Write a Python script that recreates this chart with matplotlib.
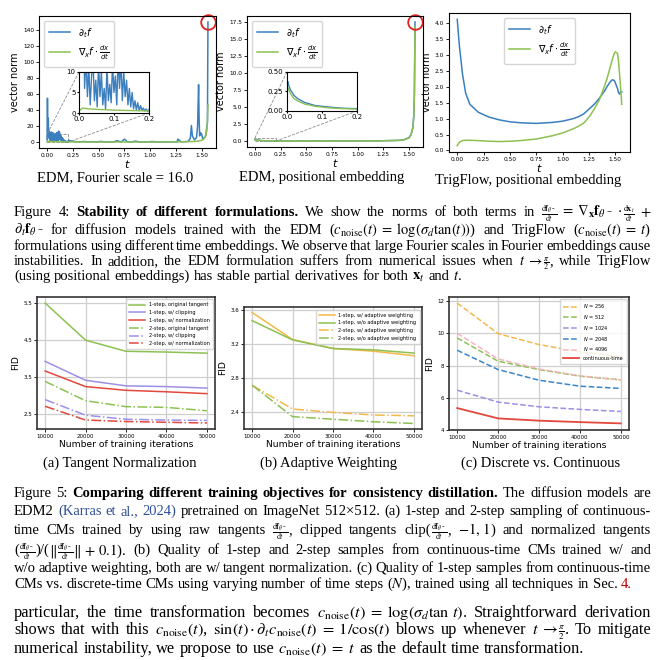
import matplotlib
matplotlib.use('Agg')
import matplotlib.pyplot as plt
import numpy as np
from mpl_toolkits.axes_grid1.inset_locator import mark_inset

# ---------------- data: top row ----------------
t_fourier = [0.000, 0.004, 0.008, 0.012, 0.016, 0.020, 0.024, 0.028, 0.032, 0.036, 0.040, 0.044,
             0.048, 0.052, 0.056, 0.060, 0.064, 0.068, 0.072, 0.076, 0.080, 0.084, 0.088, 0.092,
             0.096, 0.100, 0.104, 0.108, 0.112, 0.116, 0.120, 0.124, 0.128, 0.132, 0.136, 0.140,
             0.144, 0.148, 0.152, 0.156, 0.160, 0.164, 0.168, 0.172, 0.176, 0.180, 0.184, 0.188,
             0.192, 0.196, 0.200,
             0.21, 0.24, 0.28, 0.32, 0.36, 0.40, 0.44, 0.48, 0.52, 0.56, 0.60, 0.64, 0.68, 0.72,
             0.75, 0.78, 0.82, 0.86, 0.90, 0.94, 0.98, 1.02, 1.06, 1.10, 1.14, 1.18, 1.22, 1.26,
             1.27, 1.30, 1.34, 1.37,
             1.39, 1.40, 1.41, 1.43, 1.45, 1.46, 1.47, 1.475, 1.48, 1.49, 1.50, 1.51, 1.52, 1.53,
             1.54, 1.55, 1.556, 1.5608]
dtf_fourier = [3, 55, 12, 30, 6, 14, 4, 11, 2, 9, 13, 3,
               8, 1.5, 12, 4, 10, 2, 6, 1, 11, 3, 7, 2.5,
               12, 5, 9, 2, 14, 6, 13, 3, 10, 4, 8, 2,
               6, 1.5, 5, 1, 3, 0.8, 2.5, 0.6, 1.8, 0.7, 1.2, 0.5,
               1.0, 0.4, 0.8,
               2.5, 1.5, 0.8, 0.6, 1.0, 0.5, 0.8, 0.4, 1.2, 0.5, 0.6, 0.4, 2.0, 0.5,
               4.0, 0.6, 0.5, 1.5, 0.4, 0.6, 0.4, 1.0, 0.5, 0.4, 0.6, 0.5, 0.7, 0.5,
               4.0, 0.6, 0.8, 1.2,
               5, 21, 8, 3, 6, 20, 72, 30, 8, 12, 10, 4, 5, 6,
               9, 20, 25, 150]
t_fourier_g = [0.0, 0.01, 0.03, 0.05, 0.1, 0.2, 0.5, 1.0, 1.3, 1.45, 1.50, 1.52, 1.54, 1.55, 1.555, 1.5608]
dxf_fourier = [0.5, 1.2, 1.0, 0.9, 0.7, 0.5, 0.4, 0.4, 0.6, 1.2, 2.5, 4, 8, 15, 25, 47]

t_pos = [0.0, 0.002, 0.005, 0.01, 0.02, 0.03, 0.05, 0.08, 0.12, 0.16, 0.2, 0.4, 0.8, 1.2,
         1.4, 1.45, 1.5, 1.52, 1.54, 1.55, 1.555, 1.5608]
dtf_pos = [0.22, 0.38, 0.33, 0.27, 0.20, 0.16, 0.11, 0.07, 0.05, 0.035, 0.03, 0.025, 0.03, 0.05,
           0.12, 0.2, 0.5, 0.9, 2.0, 4.0, 7.0, 17.5]
dxf_pos = [0.16, 0.30, 0.28, 0.22, 0.16, 0.13, 0.09, 0.06, 0.04, 0.03, 0.025, 0.02, 0.025, 0.045,
           0.11, 0.18, 0.45, 0.85, 1.9, 3.8, 6.8, 16.8]

t_trig = [0.0, 0.02, 0.05, 0.08, 0.12, 0.2, 0.3, 0.4, 0.5, 0.6, 0.75, 0.9, 1.0, 1.1, 1.15, 1.2,
          1.25, 1.3, 1.35, 1.4, 1.42, 1.45, 1.47, 1.49, 1.5, 1.52, 1.53, 1.54, 1.55, 1.5608]
dtf_trig = [4.12, 3.3, 2.4, 1.8, 1.45, 1.2, 1.05, 0.96, 0.9, 0.87, 0.85, 0.88, 0.92, 1.0, 1.06,
            1.15, 1.3, 1.45, 1.65, 1.88, 2.0, 2.15, 2.22, 2.2, 2.12, 1.95, 1.82, 1.77, 1.84, 1.84]
dxf_trig = [0.15, 0.26, 0.31, 0.32, 0.32, 0.31, 0.29, 0.28, 0.29, 0.31, 0.36, 0.46, 0.55, 0.68,
            0.76, 0.86, 1.05, 1.3, 1.6, 2.05, 2.25, 2.6, 2.85, 3.05, 3.1, 3.05, 2.8, 2.4, 1.95, 1.45]

# ---------------- data: bottom row ----------------
iters = [10000, 20000, 30000, 40000, 50000]
a_labels = ['1-step, original tangent', '1-step, w/ clipping', '1-step, w/ normalization',
            '2-step, original tangent', '2-step, w/ clipping', '2-step, w/ normalization']
a_1_orig = [5.50, 4.50, 4.20, 4.18, 4.15]
a_1_clip = [3.93, 3.42, 3.27, 3.25, 3.21]
a_1_norm = [3.67, 3.25, 3.15, 3.11, 3.06]
a_2_orig = [3.39, 2.87, 2.71, 2.69, 2.60]
a_2_clip = [2.90, 2.48, 2.37, 2.35, 2.34]
a_2_norm = [2.72, 2.35, 2.31, 2.29, 2.27]

b_labels = ['1-step, w/ adaptive weighting', '1-step, w/o adaptive weighting',
            '2-step, w/ adaptive weighting', '2-step, w/o adaptive weighting']
b_1_w = [3.575, 3.258, 3.152, 3.12, 3.067]
b_1_wo = [3.48, 3.253, 3.152, 3.136, 3.098]
b_2_w = [2.72, 2.44, 2.40, 2.37, 2.36]
b_2_wo = [2.72, 2.35, 2.32, 2.29, 2.27]

c_labels = ['$N$ = 256', '$N$ = 512', '$N$ = 1024', '$N$ = 2048', '$N$ = 4096', 'continuous-time']
c_256 = [11.88, 9.98, 9.30, 8.85, 8.54]
c_512 = [9.71, 8.27, 7.75, 7.34, 7.11]
c_1024 = [6.47, 5.73, 5.44, 5.28, 5.15]
c_2048 = [8.95, 7.75, 7.09, 6.72, 6.58]
c_4096 = [10.0, 8.41, 7.79, 7.36, 7.11]
c_cont = [5.36, 4.72, 4.58, 4.49, 4.41]

top_titles = ['EDM, Fourier scale = 16.0', 'EDM, positional embedding', 'TrigFlow, positional embedding']
sub_captions = ['(a) Tangent Normalization', '(b) Adaptive Weighting', '(c) Discrete vs. Continuous']

BLUE = '#3b7fbf'
GREEN = '#8cc152'
PURPLE = '#9d8fe8'
RED = '#e2483c'
ORANGE = '#f5b849'
CBLUE = '#3a86c8'
PINK = '#f5b5c2'

W, H = 671, 660
fig = plt.figure(figsize=(W / 100, H / 100), dpi=100)


def box(l, t, r, b):
    return [l / W, 1 - b / H, (r - l) / W, (b - t) / H]


def style_top(ax):
    ax.tick_params(labelsize=4.2, length=2, width=0.6, pad=1.5)
    for s in ax.spines.values():
        s.set_linewidth(0.8)
    ax.set_xlabel('$t$', fontsize=8, labelpad=0)
    ax.set_ylabel('vector norm', fontsize=7, labelpad=2)
    ax.set_xticks([0, 0.25, 0.5, 0.75, 1.0, 1.25, 1.5])


leg_lab = [r'$\partial_t f$', r'$\nabla_x f \cdot \frac{dx}{dt}$']

# ---- ax1
ax1 = fig.add_axes(box(39, 16, 216, 148))
ax1.plot(t_fourier, dtf_fourier, color=BLUE, lw=1.1, label=leg_lab[0])
ax1.plot(t_fourier_g, dxf_fourier, color=GREEN, lw=1.1, label=leg_lab[1])
style_top(ax1)
ax1.legend(loc='upper left', fontsize=7, handlelength=2.2, borderpad=0.5, labelspacing=0.4)
i = int(np.argmax(dtf_fourier))
ax1.plot(t_fourier[i], dtf_fourier[i], 'o', ms=10.5, mfc='none', mec='#e0201b', mew=1.3, clip_on=False)
ins1 = ax1.inset_axes([0.226, 0.265, 0.395, 0.311])
ins1.plot(t_fourier, dtf_fourier, color=BLUE, lw=1.0)
ins1.plot(t_fourier_g, dxf_fourier, color=GREEN, lw=1.0)
ins1.set_xlim(0, 0.2)
ins1.set_ylim(0, 10)
ins1.set_xticks([0, 0.1, 0.2])
ins1.set_yticks([0, 5, 10])
ins1.tick_params(labelsize=5, length=1.5, pad=1)
mark_inset(ax1, ins1, loc1=2, loc2=4, fc='none', ec='0.55', lw=0.6, ls='--')

# ---- ax2
ax2 = fig.add_axes(box(247, 16, 423, 147))
ax2.plot(t_pos, dtf_pos, color=BLUE, lw=1.1, label=leg_lab[0])
ax2.plot(t_pos, dxf_pos, color=GREEN, lw=1.1, label=leg_lab[1])
style_top(ax2)
ax2.legend(loc='upper left', fontsize=7, handlelength=2.2, borderpad=0.5, labelspacing=0.4)
i = int(np.argmax(dtf_pos))
ax2.plot(t_pos[i], dtf_pos[i], 'o', ms=10.5, mfc='none', mec='#e0201b', mew=1.3, clip_on=False)
ins2 = ax2.inset_axes([0.227, 0.275, 0.398, 0.298])
ins2.plot(t_pos, dtf_pos, color=BLUE, lw=1.0)
ins2.plot(t_pos, dxf_pos, color=GREEN, lw=1.0)
ins2.set_xlim(0, 0.2)
ins2.set_ylim(0, 0.5)
ins2.set_xticks([0, 0.1, 0.2])
ins2.set_yticks([0, 0.25, 0.5])
ins2.tick_params(labelsize=5, length=1.5, pad=1)
mark_inset(ax2, ins2, loc1=2, loc2=4, fc='none', ec='0.55', lw=0.6, ls='--')

# ---- ax3
ax3 = fig.add_axes(box(449, 13, 630, 152))
ax3.plot(t_trig, dtf_trig, color=BLUE, lw=1.1, label=leg_lab[0])
ax3.plot(t_trig, dxf_trig, color=GREEN, lw=1.1, label=leg_lab[1])
style_top(ax3)
ax3.legend(loc='upper center', fontsize=7, handlelength=2.2, borderpad=0.5, labelspacing=0.4)

for x, y, s in [(115, 181, top_titles[0]), (322, 181, top_titles[1]), (528, 184, top_titles[2])]:
    fig.text(x / W, 1 - y / H, s, family='Liberation Serif', fontsize=10.5, ha='center', va='baseline')


# ---------------- bottom row ----------------
def style_bot(ax, yt):
    ax.grid(True, color='#cfcfcf', lw=0.9)
    ax.set_axisbelow(True)
    ax.set_xticks(iters)
    ax.set_yticks(yt)
    ax.tick_params(labelsize=4, length=2, width=0.6, pad=1.5)
    for s in ax.spines.values():
        s.set_linewidth(1.2)
        s.set_color('#333333')
    ax.set_xlabel('Number of training iterations', fontsize=6.6, labelpad=1)
    ax.set_ylabel('FID', fontsize=6.6, labelpad=2)


ax4 = fig.add_axes(box(37, 297, 215, 429))
ax4.plot(iters, a_1_orig, color=GREEN, lw=1.1, ls='-', label=a_labels[0])
ax4.plot(iters, a_1_clip, color=PURPLE, lw=1.1, ls='-', label=a_labels[1])
ax4.plot(iters, a_1_norm, color=RED, lw=1.1, ls='-', label=a_labels[2])
ax4.plot(iters, a_2_orig, color=GREEN, lw=1.1, ls='-.', label=a_labels[3])
ax4.plot(iters, a_2_clip, color=PURPLE, lw=1.1, ls='-.', label=a_labels[4])
ax4.plot(iters, a_2_norm, color=RED, lw=1.1, ls='-.', label=a_labels[5])
style_bot(ax4, [2.5, 3.5, 4.5, 5.5])
ax4.legend(loc='upper right', fontsize=3.6, handlelength=3.2, labelspacing=0.55, borderpad=0.6)

ax5 = fig.add_axes(box(244, 307, 422, 429))
ax5.plot(iters, b_1_w, color=ORANGE, lw=1.1, ls='-', label=b_labels[0])
ax5.plot(iters, b_1_wo, color=GREEN, lw=1.1, ls='-', label=b_labels[1])
ax5.plot(iters, b_2_w, color=ORANGE, lw=1.1, ls='-.', label=b_labels[2])
ax5.plot(iters, b_2_wo, color=GREEN, lw=1.1, ls='-.', label=b_labels[3])
style_bot(ax5, [2.4, 2.8, 3.2, 3.6])
ax5.legend(loc='upper right', fontsize=3.6, handlelength=3.2, labelspacing=0.55, borderpad=0.6)

ax6 = fig.add_axes(box(449, 297, 629, 430))
ax6.plot(iters, c_256, color=ORANGE, lw=1.1, ls='--', label=c_labels[0])
ax6.plot(iters, c_512, color=GREEN, lw=1.1, ls='--', label=c_labels[1])
ax6.plot(iters, c_1024, color=PURPLE, lw=1.1, ls='--', label=c_labels[2])
ax6.plot(iters, c_2048, color=CBLUE, lw=1.1, ls='--', label=c_labels[3])
ax6.plot(iters, c_4096, color=PINK, lw=1.1, ls='--', label=c_labels[4])
ax6.plot(iters, c_cont, color=RED, lw=1.3, ls='-', label=c_labels[5])
style_bot(ax6, [4, 6, 8, 10, 12])
ax6.legend(loc='upper right', fontsize=3.6, handlelength=3.2, labelspacing=0.55, borderpad=0.6)

for x, y, s in [(120, 467, sub_captions[0]), (328, 467, sub_captions[1]), (541, 467, sub_captions[2])]:
    fig.text(x / W, 1 - y / H, s, family='Liberation Serif', fontsize=10.5, ha='center', va='baseline')

# ---------------- caption text ----------------
# words are separated by spaces; '|' glues pieces of one word (pieces with \frac are set smaller)
F = r'$\frac{\mathrm{d}\mathbf{f}_{\theta^-}}{\mathrm{d}t}$'
CN = r'c_{\mathrm{noise}}(t)'
EQ = r'\;=\;'
fig4 = [
    "Figure 4: *Stability *of *different *formulations. We show the norms of both terms in "
    + F + r"|$\;=\;\nabla_{\mathbf{x}}\mathbf{f}_{\theta^-}\,\cdot\,$|$\frac{\mathrm{d}\mathbf{x}_t}{\mathrm{d}t}$|$\;+$",
    r"$\partial_t\mathbf{f}_{\theta^-}$ for diffusion models trained with the EDM ($" + CN + EQ +
    r"\log(\sigma_d\tan(t))$) and TrigFlow ($" + CN + EQ + r"t$)",
    "formulations using different time embeddings. We observe that large Fourier scales in Fourier embeddings cause",
    r"instabilities. In addition, the EDM formulation suffers from numerical issues when $t\;\to\;$|$\frac{\pi}{2}$|, while TrigFlow",
    r"(using positional embeddings) has stable partial derivatives for both $\mathbf{x}_t$ and $t$.",
]
fig4_y = [216, 234, 250, 265, 280]

fig5 = [
    "Figure 5: *Comparing *different *training *objectives *for *consistency *distillation. The diffusion models are",
    "EDM2 ^(Karras ^et ^al., ^2024) pretrained on ImageNet 512\u00d7512. (a) 1-step and 2-step sampling of continuous-",
    "time CMs trained by using raw tangents " + F + "|, clipped tangents clip(|" + F +
    r"|, $-1,\,1$) and normalized tangents",
    "(|" + F + r"|)/(|$\Vert$|" + F + r"|$\Vert\,+\,0.1$). (b) Quality of 1-step and 2-step samples from continuous-time CMs trained w/ and",
    "w/o adaptive weighting, both are w/ tangent normalization. (c) Quality of 1-step samples from continuous-time",
    "CMs vs. discrete-time CMs using varying number of time steps ($N$), trained using all techniques in Sec. ~4.",
]
fig5_y = [497, 515, 534, 554, 572, 588]

para = [
    "particular, the time transformation becomes $" + CN + EQ + r"\log(\sigma_d\tan\,t)$. Straightforward derivation",
    "shows that with this $" + CN + r"$, $\sin(t)\cdot\partial_{t}" + CN + EQ + r"1/\cos(t)$ blows up whenever "
    r"$t\;\to\;$|$\frac{\pi}{2}$|. To mitigate",
    "numerical instability, we propose to use $" + CN + EQ + "t$ as the default time transformation.",
]
para_y = [617, 634, 653]


def parse(line):
    out = []
    for w in line.split(' '):
        kw = {}
        if w.startswith('*'):
            w = w[1:]
            kw['fontweight'] = 'bold'
        elif w.startswith('^'):
            w = w[1:]
            kw['color'] = '#2f4f96'
        elif w.startswith('~'):
            w = w[1:]
            kw['color'] = '#c00000'
        out.append((w.split('|'), kw))
    return out


renderer = fig.canvas.get_renderer()


def jline(y_px, line, size, justify=True, x0=14, x1=651):
    words = parse(line)
    groups = []
    for pieces, kw in words:
        grp = []
        for p in pieces:
            sz = size * 0.78 if '\\frac' in p else size
            t = fig.text(0, 1 - y_px / H, p, fontsize=sz, family='Liberation Serif',
                         math_fontfamily='stix', va='baseline', ha='left', **kw)
            grp.append((t, t.get_window_extent(renderer).width))
        groups.append(grp)
    widths = [sum(w for _, w in g) for g in groups]
    if justify and len(groups) > 1:
        gap = (x1 - x0 - sum(widths)) / (len(groups) - 1)
    else:
        gap = size * 0.25 * 100 / 72
    x = x0
    for g, wtot in zip(groups, widths):
        xx = x
        for t, w in g:
            t.set_x(xx / W)
            xx += w
        x += wtot + gap


for k, (ln, y) in enumerate(zip(fig4, fig4_y)):
    jline(y, ln, 10.5, justify=(k < len(fig4) - 1))
for k, (ln, y) in enumerate(zip(fig5, fig5_y)):
    jline(y, ln, 10.5, justify=(k < len(fig5) - 1))
for k, (ln, y) in enumerate(zip(para, para_y)):
    jline(y, ln, 11.8, justify=(k < len(para) - 1))

fig.savefig('out.png', dpi=100)
